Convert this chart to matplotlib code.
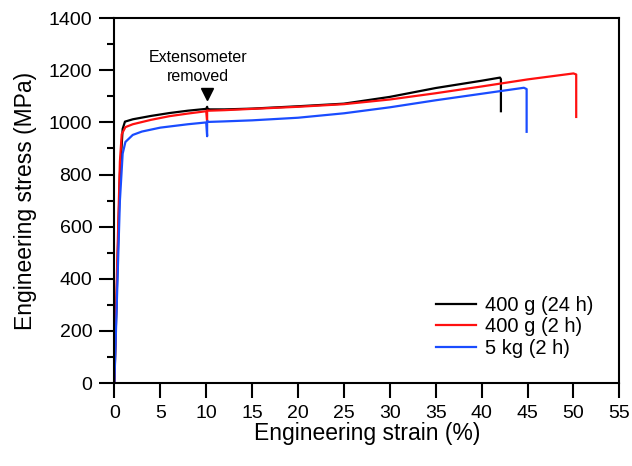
import matplotlib.pyplot as plt

plt.rcParams['font.family'] = ['Liberation Sans', 'DejaVu Sans']

# 400 g (24 h)
strain_24h = [0, 0.3, 0.6, 0.9, 1.15, 2, 4, 6, 8, 10, 10.1, 10.15, 10.4, 12, 15, 20, 25, 30, 35, 40, 42.0, 42.1, 42.1]
stress_24h = [0, 400, 800, 975, 1003, 1012, 1025, 1036, 1045, 1052, 1060, 1052, 1050, 1050, 1053, 1062, 1072, 1098, 1132, 1160, 1172, 1166, 1043]

# 400 g (2 h)
strain_2h = [0, 0.3, 0.6, 0.8, 1.2, 2, 4, 6, 8, 10, 10.1, 10.1, 10.3, 12, 15, 20, 25, 30, 35, 40, 45, 50, 50.3, 50.3]
stress_2h = [0, 450, 850, 955, 982, 993, 1010, 1024, 1034, 1043, 1002, 1046, 1045, 1047, 1052, 1060, 1070, 1088, 1112, 1138, 1165, 1188, 1184, 1021]

# 5 kg (2 h)
strain_5kg = [0, 0.3, 0.6, 0.9, 1.2, 2, 3, 5, 8, 10, 10.1, 10.1, 10.3, 12, 15, 20, 25, 30, 35, 40, 44.6, 44.9, 44.9]
stress_5kg = [0, 350, 700, 880, 925, 952, 965, 980, 993, 1000, 947, 1005, 1002, 1004, 1008, 1018, 1035, 1058, 1085, 1110, 1133, 1128, 964]

note_x, note_y = 9.15, 1148
arrow_x, arrow_y = 10.1, 1108

fig = plt.figure(figsize=(6.32, 4.66), dpi=100)
ax = fig.add_axes([0.181, 0.178, 0.799, 0.783])

ax.plot(strain_24h, stress_24h, color='k', lw=1.6, label='400 g (24 h)')
ax.plot(strain_2h, stress_2h, color='#ff1010', lw=1.6, label='400 g (2 h)')
ax.plot(strain_5kg, stress_5kg, color='#1a4cff', lw=1.6, label='5 kg (2 h)')

ax.text(note_x, note_y, 'Extensometer\nremoved', ha='center', va='bottom', fontsize=11.5, linespacing=1.3)
ax.plot([arrow_x], [arrow_y], marker='v', color='k', markersize=8.5, linestyle='none')

ax.set_xlim(0, 55)
ax.set_ylim(0, 1400)
ax.set_xticks(range(0, 56, 5))
ax.set_yticks(range(0, 1401, 200))
ax.set_yticks(range(100, 1400, 200), minor=True)
ax.tick_params(which='major', direction='out', length=11, width=1.5, labelsize=14, pad=5)
ax.tick_params(which='minor', direction='out', length=5, width=1.5)
for s in ax.spines.values():
    s.set_linewidth(1.5)

ax.set_xlabel('Engineering strain (%)', fontsize=16.5, labelpad=0)
ax.set_ylabel('Engineering stress (MPa)', fontsize=16.5, labelpad=8)

ax.legend(loc='lower right', bbox_to_anchor=(0.985, 0.02), frameon=False, fontsize=14.5,
          handlelength=2.0, handletextpad=0.45, labelspacing=0.12)

fig.savefig('out.png', dpi=100)
